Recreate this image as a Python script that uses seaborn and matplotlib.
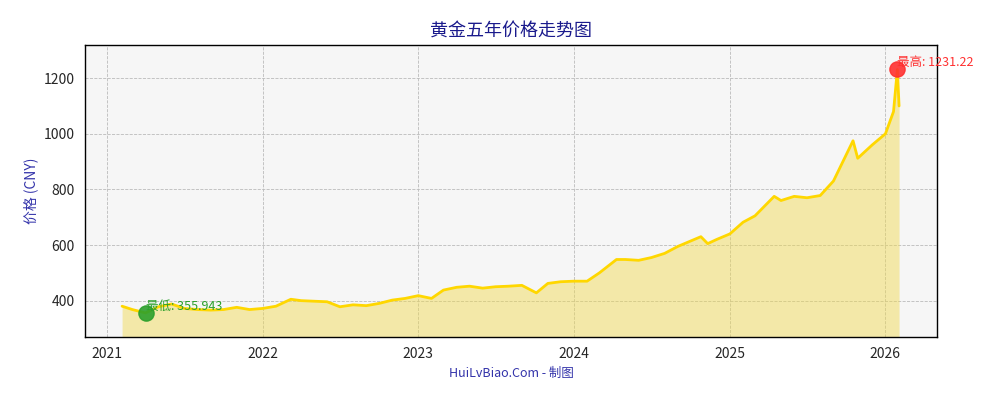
import pandas as pd
import matplotlib
matplotlib.use("Agg")
import matplotlib.pyplot as plt
import matplotlib.dates as mdates
import seaborn as sns

# 数据
dates = [
    "2021-02-05", "2021-03-01", "2021-04-01", "2021-05-01", "2021-06-01", "2021-07-01",
    "2021-08-01", "2021-09-01", "2021-10-01", "2021-11-01", "2021-12-01",
    "2022-01-01", "2022-02-01", "2022-03-08", "2022-04-01", "2022-05-01", "2022-06-01",
    "2022-07-01", "2022-08-01", "2022-09-01", "2022-10-01", "2022-11-01", "2022-12-01",
    "2023-01-01", "2023-02-01", "2023-03-01", "2023-04-01", "2023-05-01", "2023-06-01",
    "2023-07-01", "2023-08-01", "2023-09-01", "2023-10-05", "2023-11-01", "2023-12-01",
    "2024-01-01", "2024-02-01", "2024-03-01", "2024-04-10", "2024-05-01", "2024-06-01",
    "2024-07-01", "2024-08-01", "2024-09-01", "2024-10-25", "2024-11-10", "2024-12-01",
    "2025-01-01", "2025-02-01", "2025-03-01", "2025-04-15", "2025-05-01", "2025-06-01",
    "2025-07-01", "2025-08-01", "2025-09-01", "2025-10-17", "2025-10-28", "2025-12-01",
    "2026-01-01", "2026-01-20", "2026-01-29", "2026-02-02",
]
prices = [
    380, 368, 356, 378, 388, 372,
    368, 366, 368, 376, 368,
    372, 380, 405, 400, 398, 396,
    378, 385, 382, 390, 402, 408,
    418, 408, 438, 448, 452, 445,
    450, 452, 455, 428, 462, 468,
    470, 470, 500, 548, 548, 545,
    555, 570, 595, 630, 605, 620,
    640, 682, 705, 775, 760, 775,
    770, 778, 830, 975, 912, 960,
    1000, 1080, 1231.22, 1100,
]
low_date, low_val = "2021-04-01", 355.943
high_date, high_val = "2026-01-29", 1231.22

df = pd.DataFrame({"date": pd.to_datetime(dates), "price": prices})

sns.set_style("whitegrid")
plt.rcParams["font.family"] = ["Noto Sans CJK SC", "DejaVu Sans"]

fig, ax = plt.subplots(figsize=(10, 4), dpi=100)
fig.subplots_adjust(left=0.085, right=0.937, top=0.888, bottom=0.158)
ax.set_facecolor("#f6f6f6")

sns.lineplot(data=df, x="date", y="price", ax=ax, color="#ffd700", linewidth=2)
ax.fill_between(df["date"], df["price"], 0, color="#f0d84a", alpha=0.45, linewidth=0)

ax.scatter(pd.to_datetime(low_date), low_val, s=120, color="#2ca02c", alpha=0.9, zorder=5)
ax.scatter(pd.to_datetime(high_date), high_val, s=120, color="#ff3030", alpha=0.9, zorder=5)
ax.text(pd.to_datetime(low_date), low_val, "最低: 355.943", color="#2ca02c", fontsize=9,
        va="bottom", ha="left")
ax.text(pd.to_datetime(high_date), high_val, "最高: 1231.22", color="#ff3030", fontsize=9,
        va="bottom", ha="left")

ax.set_xlim(pd.Timestamp("2020-11-10"), pd.Timestamp("2026-05-02"))
ax.set_ylim(270, 1320)
ax.set_yticks([400, 600, 800, 1000, 1200])
ax.xaxis.set_major_locator(mdates.YearLocator())
ax.xaxis.set_major_formatter(mdates.DateFormatter("%Y"))
ax.grid(True, linestyle="--", linewidth=0.6, color="#bbbbbb")
for s in ax.spines.values():
    s.set_color("black")
    s.set_linewidth(1)
ax.tick_params(axis="both", length=4, color="black", labelsize=10)

ax.set_title("黄金五年价格走势图", fontsize=13, color="#1a1a8c")
ax.set_ylabel("价格 (CNY)", fontsize=10, color="#3333aa")
ax.set_xlabel("HuiLvBiao.Com - 制图", fontsize=9, color="#3333aa")

fig.savefig("out.png", dpi=100)
